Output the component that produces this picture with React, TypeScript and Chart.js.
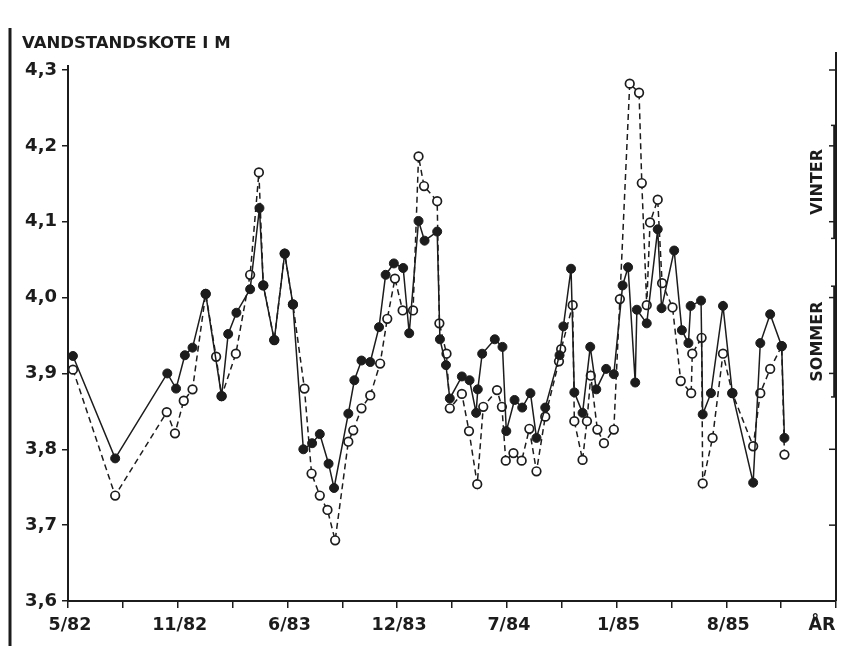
import { useEffect, useRef } from "react";
import { Chart, registerables } from "chart.js";

Chart.register(...registerables);

const TITLE = "VANDSTANDSKOTE I M";
const xTickLabels = ["5/82", "", "11/82", "", "6/83", "", "12/83", "", "7/84", "", "1/85", "", "8/85", "", "ÅR"];
const yMin = 3.6;
const yMax = 4.3;
const yStep = 0.1;

const seasonLabels = ["VINTER", "SOMMER"];
const seasonFrom = [4.078, 3.869];
const seasonTo = [4.227, 4.015];

// x = position in axis tick units (one tick ≈ 3¼ months, 0 = 5/82)
const filledX = [0.09, 0.86, 1.81, 1.97, 2.13, 2.27, 2.51, 2.8, 2.92, 3.07, 3.32, 3.49, 3.56, 3.76, 3.95, 4.1, 4.29, 4.45, 4.59, 4.75, 4.85, 5.11, 5.22, 5.35, 5.51, 5.67, 5.79, 5.94, 6.11, 6.22, 6.39, 6.5, 6.73, 6.78, 6.89, 6.96, 7.18, 7.32, 7.44, 7.47, 7.55, 7.78, 7.92, 7.99, 8.14, 8.28, 8.43, 8.54, 8.7, 8.96, 9.03, 9.17, 9.23, 9.38, 9.52, 9.63, 9.81, 9.95, 10.11, 10.21, 10.34, 10.37, 10.55, 10.75, 10.82, 11.05, 11.19, 11.31, 11.35, 11.54, 11.57, 11.72, 11.94, 12.11, 12.49, 12.62, 12.8, 13.01, 13.06];
const filledY = [3.923, 3.788, 3.9, 3.88, 3.924, 3.934, 4.005, 3.87, 3.952, 3.98, 4.011, 4.118, 4.016, 3.944, 4.058, 3.991, 3.8, 3.808, 3.82, 3.781, 3.749, 3.847, 3.891, 3.917, 3.915, 3.961, 4.03, 4.045, 4.039, 3.953, 4.101, 4.075, 4.087, 3.945, 3.911, 3.867, 3.896, 3.891, 3.848, 3.879, 3.926, 3.945, 3.935, 3.824, 3.865, 3.855, 3.874, 3.815, 3.855, 3.924, 3.962, 4.038, 3.875, 3.848, 3.935, 3.879, 3.906, 3.899, 4.016, 4.04, 3.888, 3.984, 3.966, 4.09, 3.986, 4.062, 3.957, 3.94, 3.989, 3.996, 3.846, 3.874, 3.989, 3.874, 3.756, 3.94, 3.978, 3.936, 3.815];

const openX = [0.09, 0.86, 1.8, 1.95, 2.11, 2.27, 2.51, 2.7, 2.8, 3.06, 3.32, 3.48, 3.56, 3.76, 3.95, 4.1, 4.31, 4.44, 4.59, 4.73, 4.87, 5.11, 5.2, 5.35, 5.51, 5.69, 5.82, 5.96, 6.1, 6.29, 6.39, 6.49, 6.73, 6.77, 6.9, 6.96, 7.18, 7.31, 7.46, 7.57, 7.82, 7.91, 7.98, 8.12, 8.27, 8.41, 8.54, 8.7, 8.95, 8.99, 9.2, 9.23, 9.38, 9.46, 9.53, 9.65, 9.77, 9.95, 10.06, 10.24, 10.41, 10.46, 10.55, 10.61, 10.75, 10.83, 11.02, 11.17, 11.36, 11.38, 11.55, 11.57, 11.75, 11.94, 12.11, 12.49, 12.62, 12.8, 13.01, 13.06];
const openY = [3.905, 3.739, 3.849, 3.821, 3.864, 3.879, 4.005, 3.922, 3.87, 3.926, 4.03, 4.165, 4.016, 3.944, 4.058, 3.991, 3.88, 3.768, 3.739, 3.72, 3.68, 3.81, 3.825, 3.854, 3.871, 3.913, 3.972, 4.025, 3.983, 3.983, 4.186, 4.147, 4.127, 3.966, 3.926, 3.854, 3.873, 3.824, 3.754, 3.856, 3.878, 3.856, 3.785, 3.795, 3.785, 3.827, 3.771, 3.843, 3.916, 3.932, 3.99, 3.837, 3.786, 3.837, 3.897, 3.826, 3.808, 3.826, 3.998, 4.282, 4.27, 4.151, 3.99, 4.099, 4.129, 4.019, 3.987, 3.89, 3.874, 3.926, 3.947, 3.755, 3.815, 3.926, 3.874, 3.804, 3.874, 3.906, 3.936, 3.793];

const INK = "#1c1c1c";
const FONT = '"DejaVu Sans", "Liberation Sans", Arial, sans-serif';

const decorPlugin = {
  id: "decor",
  afterDraw(chart: any) {
    const { ctx, chartArea } = chart;
    const { left, right, top, bottom } = chartArea;
    const x = chart.scales.x;
    const y = chart.scales.y;
    ctx.save();
    ctx.strokeStyle = INK;
    ctx.fillStyle = INK;

    // page edge line at far left
    ctx.lineWidth = 3;
    ctx.beginPath();
    ctx.moveTo(10, 28);
    ctx.lineTo(10, 646);
    ctx.stroke();

    // title
    ctx.font = `bold 16.5px ${FONT}`;
    ctx.textAlign = "left";
    ctx.textBaseline = "alphabetic";
    ctx.fillText(TITLE, 22, 48);

    // left axis small extension above top tick
    ctx.lineWidth = 2;
    ctx.beginPath();
    ctx.moveTo(left, top - 5);
    ctx.lineTo(left, top);
    ctx.stroke();

    // x labels
    ctx.font = `bold 17.5px ${FONT}`;
    ctx.textAlign = "center";
    ctx.textBaseline = "middle";
    xTickLabels.forEach((lab, i) => {
      if (!lab) return;
      let px = x.getPixelForValue(i) + 2;
      if (i === xTickLabels.length - 1) px -= 16;
      ctx.fillText(lab, px, bottom + 24);
    });

    // right axis
    ctx.lineWidth = 2;
    ctx.beginPath();
    ctx.moveTo(right, top - 18);
    ctx.lineTo(right, bottom);
    ctx.stroke();
    ctx.lineWidth = 1.5;
    for (let v = yMin + yStep; v <= yMax + 1e-9; v += yStep) {
      const py = y.getPixelForValue(v);
      ctx.beginPath();
      ctx.moveTo(right - 7, py);
      ctx.lineTo(right, py);
      ctx.stroke();
    }
    seasonLabels.forEach((lab, i) => {
      const y1 = y.getPixelForValue(seasonTo[i]);
      const y2 = y.getPixelForValue(seasonFrom[i]);
      ctx.fillRect(right - 2.8, y1, 3, y2 - y1);
      ctx.lineWidth = 1.5;
      [y1, y2].forEach((py) => {
        ctx.beginPath();
        ctx.moveTo(right - 5, py);
        ctx.lineTo(right, py);
        ctx.stroke();
      });
      const mid = y.getPixelForValue((seasonFrom[i] + seasonTo[i]) / 2);
      ctx.save();
      ctx.translate(right - 18, mid);
      ctx.rotate(-Math.PI / 2);
      ctx.font = `bold 16px ${FONT}`;
      ctx.textAlign = "center";
      ctx.textBaseline = "middle";
      ctx.fillText(lab, 0, 0);
      ctx.restore();
    });
    ctx.restore();
  },
};

export default function App() {
  const ref = useRef<HTMLCanvasElement | null>(null);
  useEffect(() => {
    document.body.style.margin = "0";
    document.body.style.background = "#ffffff";
    const canvas = ref.current;
    if (!canvas) return;
    const chart = new Chart(canvas, {
      type: "scatter",
      data: {
        datasets: [
          {
            label: "filled",
            data: filledX.map((v, i) => ({ x: v, y: filledY[i] })),
            showLine: true,
            borderColor: INK,
            borderWidth: 1.5,
            pointRadius: 4.5,
            pointBackgroundColor: INK,
            pointBorderColor: INK,
            pointBorderWidth: 1,
            tension: 0,
          },
          {
            label: "open",
            data: openX.map((v, i) => ({ x: v, y: openY[i] })),
            showLine: true,
            borderColor: INK,
            borderWidth: 1.5,
            borderDash: [6, 4],
            pointRadius: 4.3,
            pointBackgroundColor: "#ffffff",
            pointBorderColor: INK,
            pointBorderWidth: 1.7,
            tension: 0,
          },
        ],
      },
      options: {
        responsive: false,
        animation: false,
        devicePixelRatio: 1,
        layout: { padding: { top: 70, right: 17, left: 0, bottom: 0 } },
        plugins: { legend: { display: false }, tooltip: { enabled: false } },
        scales: {
          x: {
            type: "linear",
            min: 0,
            max: xTickLabels.length - 1,
            ticks: { display: false, stepSize: 1 },
            grid: { drawOnChartArea: false, drawTicks: true, tickLength: 7, color: INK, lineWidth: 1.5 },
            border: { color: INK, width: 2 },
            afterFit: (s: any) => {
              s.height = 45;
            },
          },
          y: {
            min: yMin,
            max: yMax,
            ticks: {
              stepSize: yStep,
              padding: 5,
              color: INK,
              font: { family: FONT, size: 18, weight: "bold" },
              callback: (v: any) => Number(v).toFixed(1).replace(".", ","),
            },
            grid: { drawOnChartArea: false, drawTicks: true, tickLength: 6, color: INK, lineWidth: 1.5 },
            border: { color: INK, width: 2 },
            afterFit: (s: any) => {
              s.width = 68;
            },
          },
        },
      },
      plugins: [decorPlugin],
    } as any);
    return () => chart.destroy();
  }, []);
  return <canvas ref={ref} width={853} height={646} style={{ display: "block", width: 853, height: 646 }} />;
}
